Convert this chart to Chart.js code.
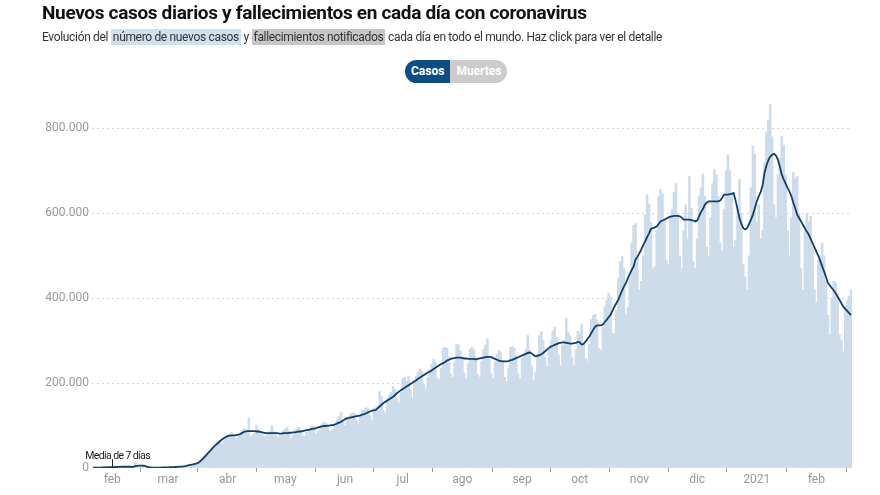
<!DOCTYPE html>
<html>
<head>
<meta charset="utf-8">
<script src="https://cdn.jsdelivr.net/npm/chart.js@4.4.0/dist/chart.umd.min.js"></script>
<style>
  body { margin: 0; background: #fff; font-family: Roboto, "Noto Sans", sans-serif; }
  #wrap { position: relative; width: 880px; height: 495px; overflow: hidden; }
  #chart { position: absolute; left: 0; top: 0; }
  h1 { position: absolute; left: 42px; top: 1px; margin: 0; font-size: 19px; font-weight: 700; color: #111; letter-spacing: -0.33px; }
  .sub { position: absolute; left: 42px; top: 30px; font-size: 12px; color: #333; white-space: nowrap; letter-spacing: -0.33px; }
  .sub span { padding: 1px 2px; }
  .hl1 { background: #cfe0ee; }
  .hl2 { background: #c6c6c6; }
  .toggle { position: absolute; top: 60px; left: 405px; display: flex; font-size: 12px; font-weight: 700; color: #fff; }
  .toggle div { height: 23px; line-height: 23px; padding: 0 6px; }
  .on { background: #0c4d85; border-radius: 12px 0 0 12px; }
  .off { background: #cccccc; border-radius: 0 12px 12px 0; }
</style>
</head>
<body>
<div id="wrap">
  <canvas id="chart" width="880" height="495"></canvas>
  <h1>Nuevos casos diarios y fallecimientos en cada día con coronavirus</h1>
  <div class="sub">Evolución del <span class="hl1">número de nuevos casos</span> y <span class="hl2">fallecimientos notificados</span> cada día en todo el mundo. Haz click para ver el detalle</div>
  <div class="toggle"><div class="on">Casos</div><div class="off">Muertes</div></div>
</div>
<script>
// daily new cases worldwide, in thousands, from 22 Jan 2020 (one value per day)
const casos = [
  0.6, 0.1, 0.3, 0.5, 0.7, 0.8, 2.7,
  0.6, 2.1, 2.0, 2.1, 2.6, 2.8, 3.2,
  3.9, 3.7, 3.2, 3.4, 2.7, 2.6, 2.0,
  0.4, 15.1, 6.5, 2.1, 2.6, 2.0, 1.9,
  0.5, 0.6, 1.0, 0.6, 0.6, 0.9, 0.9,
  1.0, 1.2, 1.8, 2.0, 1.8, 2.0, 2.2,
  2.5, 2.6, 2.9, 3.8, 4.0, 3.8, 4.5,
  4.5, 5.5, 7.5, 9.0, 9.5, 12.0, 14.0,
  17, 22, 28, 32, 34, 40, 46,
  52, 60, 64, 62, 57, 62, 74,
  77, 80, 84, 79, 70, 71, 79,
  84, 90, 92, 86, 118, 74, 78,
  82, 100, 90, 84, 80, 74, 76,
  80, 86, 101, 86, 80, 72, 76,
  76, 88, 92, 96, 80, 70, 78,
  90, 92, 96, 88, 76, 74, 84,
  86, 96, 98, 98, 80, 86, 96,
  102, 108, 106, 100, 88, 88, 92,
  104, 116, 122, 132, 108, 100, 118,
  120, 128, 130, 128, 112, 104, 122,
  136, 138, 142, 140, 124, 112, 140,
  142, 146, 180, 168, 136, 130, 164,
  172, 178, 192, 186, 162, 152, 178,
  210, 214, 204, 216, 186, 164, 206,
  216, 226, 234, 228, 196, 186, 214,
  232, 244, 256, 250, 212, 208, 236,
  282, 284, 282, 262, 222, 214, 250,
  292, 290, 276, 258, 224, 210, 246,
  280, 284, 278, 262, 220, 214, 252,
  280, 290, 304, 258, 222, 212, 252,
  268, 276, 272, 252, 214, 204, 236,
  284, 286, 282, 264, 222, 210, 258,
  268, 280, 312, 278, 240, 206, 225,
  268, 312, 322, 300, 262, 238, 280,
  300, 322, 332, 308, 266, 240, 290,
  300, 352, 320, 312, 260, 242, 278,
  322, 316, 338, 296, 258, 252, 292,
  350, 360, 362, 348, 282, 276, 332,
  380, 396, 412, 402, 318, 316, 372,
  448, 486, 498, 470, 362, 378, 448,
  530, 572, 576, 498, 420, 440, 500,
  596, 644, 622, 578, 468, 474, 560,
  640, 656, 646, 586, 490, 480, 590,
  610, 650, 670, 596, 500, 470, 560,
  620, 540, 687, 612, 486, 470, 540,
  640, 660, 693, 640, 520, 500, 590,
  670, 703, 690, 640, 530, 510, 610,
  700, 737, 700, 650, 520, 536, 620,
  680, 600, 480, 450, 420, 500, 660,
  759, 740, 580, 620, 540, 560, 720,
  790, 820, 856, 780, 620, 590, 690,
  730, 781, 760, 690, 560, 500, 590,
  696, 680, 687, 600, 470, 420, 560,
  600, 580, 593, 520, 420, 390, 490,
  500, 530, 500, 440, 360, 314, 400,
  440, 437, 410, 314, 300, 274, 380,
  395, 405, 420
];

// 7-day average, thousands
const media = [
  0.6, 0.7, 0.8, 0.9, 1.0, 1.2, 1.4, 1.6, 1.8, 1.9,
  2.0, 2.2, 2.4, 2.6, 2.8, 2.9, 3.0, 3.0, 3.0, 2.9, 2.8,
  2.7, 4.5, 5.2, 5.4, 5.4, 5.3, 5.2,
  3.0, 1.5, 1.2, 1.0, 0.9, 0.9, 1.0,
  1.1, 1.2, 1.4, 1.5, 1.7, 1.8, 2.0,
  2.2, 2.4, 2.7, 3.0, 3.4, 3.8, 4.5,
  5.5, 6.5, 7.5, 8.5, 9.5, 11, 13,
  17, 21, 26, 31, 36, 41, 46,
  51, 55, 59, 63, 67, 70, 73,
  75, 76, 77, 77, 77, 78, 79,
  81, 84, 86, 87, 87, 87, 87,
  87, 86, 86, 85, 84, 83, 82,
  82, 82, 82, 82, 82, 82, 81,
  81, 82, 82, 82, 83, 83, 84,
  84, 85, 86, 86, 87, 88, 89,
  90, 91, 92, 93, 94, 96, 97,
  98, 99, 99, 100, 100, 101, 101,
  103, 105, 107, 109, 112, 115, 117,
  118, 119, 120, 121, 122, 123, 124,
  126, 127, 129, 131, 133, 135, 136,
  137, 141, 145, 149, 153, 156, 159,
  162, 165, 168, 172, 176, 180, 183,
  186, 189, 192, 195, 198, 201, 204,
  207, 210, 213, 216, 219, 222, 225,
  227, 230, 233, 236, 239, 242, 245,
  247, 250, 253, 255, 257, 258, 259,
  260, 260, 260, 259, 258, 258, 257,
  257, 257, 257, 256, 257, 258, 259,
  260, 261, 262, 262, 261, 259, 257,
  255, 253, 252, 251, 251, 251, 252,
  254, 255, 257, 259, 261, 263, 265,
  267, 269, 271, 272, 270, 266, 263,
  264, 266, 268, 271, 275, 279, 283,
  286, 288, 290, 292, 294, 295, 296,
  296, 295, 294, 293, 293, 294, 295,
  297, 296, 291, 292, 298, 304, 310,
  318, 326, 333, 336, 336, 336, 338,
  344, 349, 355, 361, 370, 380, 388,
  396, 407, 418, 428, 436, 447, 457,
  467, 475, 491, 498, 506, 515, 525,
  534, 544, 553, 563, 565, 567, 569,
  575, 581, 583, 585, 588, 590, 592,
  593, 594, 594, 594, 593, 590, 585,
  585, 585, 585, 584, 583, 581, 583,
  593, 603, 610, 620, 625, 628, 628,
  628, 628, 628, 628, 630, 636, 644,
  644, 644, 645, 646, 648, 630, 610,
  589, 575, 565, 562, 565, 575, 585,
  597, 612, 628, 640, 650, 665, 695,
  712, 725, 734, 738, 740, 736, 726,
  710, 691, 680, 670, 660, 652, 640,
  625, 612, 597, 589, 581, 573, 565,
  557, 550, 540, 530, 520, 510, 500,
  488, 475, 463, 450, 436, 430, 424,
  418, 412, 404, 396, 388, 380, 375,
  370, 365, 360
];

// month labels and the day index they sit on
const mesIndex = [10, 39, 70, 100, 131, 161, 192, 223, 253, 284, 314, 345, 376];
const mesTexto = ['feb', 'mar', 'abr', 'may', 'jun', 'jul', 'ago', 'sep', 'oct', 'nov', 'dic', '2021', 'feb'];
const yTicks = [0, 200, 400, 600, 800];

// one category per day
const inicio = new Date(2020, 0, 22);
let fechas = [];
for (let i = 0; i < casos.length; i++) {
    let d = new Date(inicio);
    d.setDate(d.getDate() + i);
    fechas.push(d.toISOString().slice(0, 10));
}

// "Media de 7 días" label with its small pointer
const etiqueta = {
    id: 'etiqueta',
    afterDatasetsDraw(chart) {
        const c = chart.ctx;
        const x = chart.scales.x.getPixelForValue(10);
        const y = chart.scales.y.getPixelForValue(media[10]);
        c.save();
        c.strokeStyle = '#222';
        c.lineWidth = 1;
        c.beginPath();
        c.moveTo(Math.round(x) + 0.5, y - 8);
        c.lineTo(Math.round(x) + 0.5, y);
        c.stroke();
        c.fillStyle = '#222';
        c.font = '10.5px Roboto';
        c.letterSpacing = '-0.6px';
        c.textBaseline = 'bottom';
        c.fillText('Media de 7 días', x - 27, y - 6);
        c.restore();
    }
};

let ctx = document.getElementById('chart').getContext('2d');
new Chart(ctx, {
    data: {
        labels: fechas,
        datasets: [{
            type: 'line',
            data: media,
            borderColor: '#123f69',
            borderWidth: 1.8,
            pointRadius: 0,
            tension: 0,
            order: 0
        }, {
            type: 'bar',
            data: casos,
            backgroundColor: '#cddcea',
            barPercentage: 1,
            categoryPercentage: 1,
            order: 1
        }]
    },
    options: {
        responsive: false,
        animation: false,
        layout: { padding: { top: 86, right: 28, left: 0, bottom: 0 } },
        plugins: { legend: { display: false }, tooltip: { enabled: false } },
        scales: {
            x: {
                grid: { drawOnChartArea: false, drawTicks: true, tickLength: 4, color: '#999' },
                border: { display: false },
                afterFit: s => { s.height = 27; },
                ticks: {
                    autoSkip: false,
                    maxRotation: 0,
                    padding: 1,
                    color: '#999',
                    font: { family: 'Roboto', size: 12 },
                    callback: function(v, i) {
                        let k = mesIndex.indexOf(i);
                        return k >= 0 ? mesTexto[k] : null;
                    }
                }
            },
            y: {
                min: 0,
                max: 900,
                afterFit: s => { s.width = 92; },
                afterBuildTicks: s => { s.ticks = yTicks.map(v => ({ value: v })); },
                border: { display: false, dash: [2, 3] },
                grid: {
                    drawTicks: false,
                    color: c => c.tick.value === 0 ? 'rgba(0,0,0,0)' : '#d6d6d6'
                },
                ticks: {
                    padding: 3,
                    color: '#999',
                    font: { family: 'Roboto', size: 12 },
                    callback: v => v === 0 ? '0' : v + '.000'
                }
            }
        }
    },
    plugins: [etiqueta]
});
</script>
</body>
</html>
